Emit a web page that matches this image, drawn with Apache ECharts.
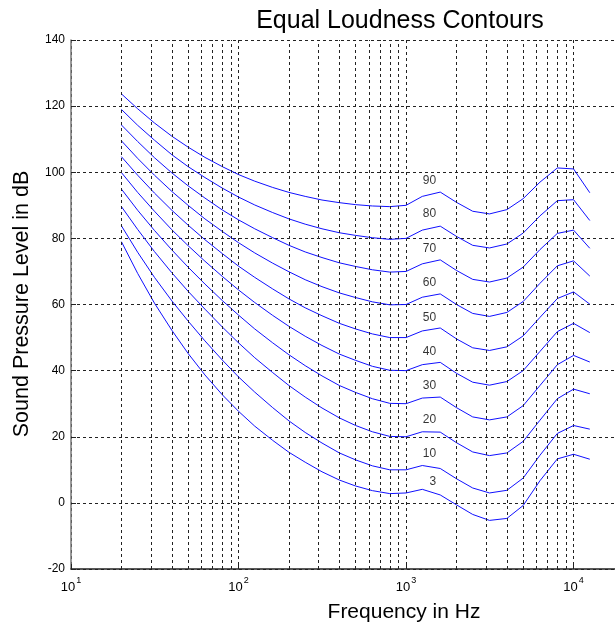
<!DOCTYPE html>
<html><head><meta charset="utf-8">
<script src="https://cdn.jsdelivr.net/npm/echarts@6/dist/echarts.min.js"></script>
<style>html,body{margin:0;padding:0;background:#fff}#c{width:615px;height:625px}</style>
</head><body><div id="c"></div>
<script>
// Frequencies (Hz) of the contour points
const freqs = [20,25,31.5,40,50,63,80,100,125,160,200,250,315,400,500,630,800,1000,1250,1600,2000,2500,3150,4000,5000,6300,8000,10000,12500];
// Sound pressure level (dB) of each equal-loudness contour
const phon90 = [123.7,119.2,114.9,110.9,107.6,104.5,101.7,99.3,97.3,95.4,93.9,92.7,91.6,90.8,90.2,89.8,89.6,90.0,92.7,94.0,90.9,88.2,87.4,88.7,92.0,97.0,101.3,101.0,93.8];
const phon80 = [119.0,114.2,109.7,105.3,101.7,98.4,95.2,92.5,90.1,87.8,85.9,84.3,82.9,81.7,80.9,80.2,79.7,80.0,82.5,83.7,80.6,77.9,77.1,78.3,81.6,86.8,91.4,91.7,85.4];
const phon70 = [114.3,109.3,104.4,99.8,95.9,92.2,88.6,85.6,82.9,80.2,77.9,75.9,74.2,72.6,71.5,70.5,69.8,70.0,72.3,73.5,70.3,67.6,66.8,68.0,71.3,76.6,81.5,82.5,77.0];
const phon60 = [109.5,104.2,99.1,94.2,90.0,85.9,82.1,78.7,75.6,72.5,69.9,67.5,65.4,63.5,62.1,60.8,59.9,60.0,62.2,63.2,60.0,57.3,56.4,57.6,60.9,66.4,71.7,73.2,68.6];
const phon50 = [104.7,99.1,93.7,88.5,84.0,79.6,75.4,71.6,68.2,64.7,61.7,59.0,56.6,54.3,52.6,51.1,50.0,50.0,52.0,52.9,49.6,46.9,46.1,47.2,50.5,56.1,61.8,63.8,60.1];
const phon40 = [99.9,93.9,88.2,82.6,77.8,73.1,68.5,64.4,60.6,56.7,53.4,50.4,47.6,45.0,43.1,41.3,40.1,40.0,41.8,42.5,39.2,36.5,35.6,36.7,40.0,45.8,51.8,54.3,51.5];
const phon30 = [94.9,88.5,82.4,76.5,71.3,66.2,61.2,56.8,52.6,48.4,44.8,41.5,38.4,35.5,33.4,31.5,30.1,30.0,31.7,32.0,28.8,26.0,25.1,26.0,29.4,35.5,41.8,44.6,42.6];
const phon20 = [89.6,82.7,76.0,69.6,64.0,58.6,53.2,48.4,43.9,39.4,35.5,32.0,28.7,25.7,23.4,21.5,20.1,20.0,21.5,21.4,18.2,15.4,14.3,15.1,18.6,25.0,31.5,34.4,33.0];
const phon10 = [83.8,75.8,68.2,61.1,55.0,49.0,43.2,38.1,33.5,28.8,24.8,21.3,18.1,15.1,13.0,11.2,10.0,10.0,11.3,10.4,7.3,4.5,3.0,3.8,7.5,14.4,21.0,23.4,22.3];
const phon3  = [79.0,69.4,60.4,52.2,45.2,38.7,32.7,27.7,23.2,18.9,15.3,12.3,9.4,6.9,5.1,3.7,2.8,3.0,4.1,2.4,-0.6,-3.5,-5.3,-4.7,-0.8,6.7,13.3,14.7,13.2];
// Contour labels
const phonNames = [90,80,70,60,50,40,30,20,10,3];
const labelFreq = 1250;
const labelLevels = [97.4,87.4,76.8,66.5,55.9,45.6,35.3,25.3,14.8,6.3];
// Minor log grid lines
const minorFreqs = [20,30,40,50,60,70,80,90,200,300,400,500,600,700,800,900,2000,3000,4000,5000,6000,7000,8000,9000];
const yMin = -20, yMax = 140, yStep = 20;
const xMin = 10, xMax = 20000;

const curves = [phon90,phon80,phon70,phon60,phon50,phon40,phon30,phon20,phon10,phon3];
const FONT = 'Liberation Sans, Arial, Helvetica, sans-serif';
const chart = echarts.init(document.getElementById('c'), null, {renderer:'canvas'});

const series = curves.map((c, i) => ({
  type: 'line', name: 'phon' + phonNames[i],
  data: freqs.map((f, j) => [f, c[j]]),
  showSymbol: false, symbol: 'none', smooth: false, silent: true,
  lineStyle: {color: '#1010ff', width: 1}, z: 3, animation: false
}));
series.push({
  type: 'line', data: [], silent: true, animation: false, z: 1,
  markLine: {
    silent: true, symbol: ['none','none'], animation: false,
    label: {show: false},
    lineStyle: {color: '#222', type: [3,3], width: 1},
    data: minorFreqs.map(f => ({xAxis: f}))
  }
});
series.push({
  type: 'scatter', silent: true, animation: false, z: 4,
  symbolSize: 1, itemStyle: {color: 'rgba(0,0,0,0)'},
  data: labelLevels.map((y, i) => ({value: [labelFreq, y], name: String(phonNames[i])})),
  label: {
    show: true, position: 'right', distance: 0, color: '#000', fontSize: 12, fontFamily: FONT,
    formatter: p => String(p.name).padStart(2, '\u2007')
  }
});

chart.setOption({
  animation: false,
  backgroundColor: '#fff',
  grid: {left: 71, top: 40, width: 553, height: 529, containLabel: false, outerBoundsMode: 'none'},
  xAxis: {
    type: 'log', min: xMin, max: xMax, logBase: 10,
    axisLine: {show: true, onZero: false, lineStyle: {color: '#222', width: 1.5}},
    axisTick: {show: true, inside: true, length: 5, lineStyle: {color: '#222'}},
    splitLine: {show: true, lineStyle: {color: '#222', type: [3,3], width: 1}},
    axisLabel: {
      color: '#000', margin: 7, fontFamily: FONT,
      formatter: v => {
        const e = Math.round(Math.log10(v));
        if (Math.abs(Math.pow(10, e) - v) > 1e-6 * v) return '';
        return '{b|10}{s|' + e + '}';
      },
      rich: {
        b: {fontSize: 13, fontFamily: FONT, color: '#000'},
        s: {fontSize: 9, fontFamily: FONT, color: '#000', padding: [0,0,14,1]}
      }
    }
  },
  yAxis: {
    type: 'value', min: yMin, max: yMax, interval: yStep,
    axisLine: {show: true, onZero: false, lineStyle: {color: '#777', width: 1.5}},
    axisTick: {show: true, inside: true, length: 5, lineStyle: {color: '#222'}},
    splitLine: {show: true, lineStyle: {color: '#222', type: [3,3], width: 1}},
    axisLabel: {color: '#000', fontSize: 12, margin: 6, fontFamily: FONT}
  },
  graphic: [
    {type: 'text', x: 400, y: 21, style: {text: 'Equal Loudness Contours', fontSize: 25, fontFamily: FONT, fill: '#000', align: 'center', verticalAlign: 'middle'}},
    {type: 'text', x: 404, y: 612, style: {text: 'Frequency in Hz', fontSize: 21, fontFamily: FONT, fill: '#000', align: 'center', verticalAlign: 'middle'}},
    {type: 'text', x: 22, y: 304, rotation: Math.PI / 2, style: {text: 'Sound Pressure Level in dB', fontSize: 21.5, fontFamily: FONT, fill: '#000', align: 'center', verticalAlign: 'middle'}}
  ],
  series: series
});
</script></body></html>
